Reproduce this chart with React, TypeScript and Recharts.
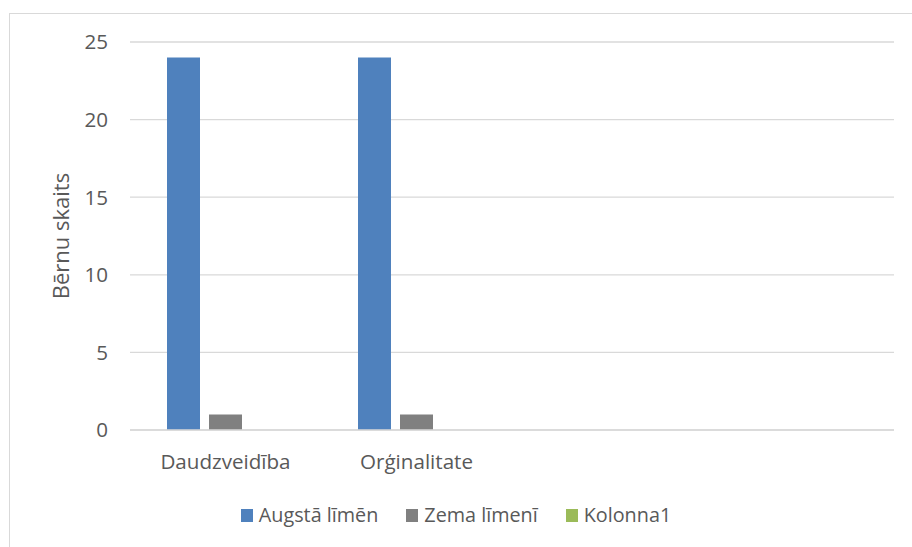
import React from 'react';
import { BarChart, Bar, XAxis, YAxis, CartesianGrid, Legend } from 'recharts';

const categories = ['Daudzveidība', 'Orģinalitate', '', ''];
const augstaLimen = [24, 24, null, null];
const zemaLimeni = [1, 1, null, null];
const kolonna1 = [null, null, null, null];
const yTicks = [0, 5, 10, 15, 20, 25];

const seriesNames = ['Augstā līmēn', 'Zema līmenī', 'Kolonna1'];
const seriesColors = ['#4f81bd', '#808080', '#9bbb59'];

const data = categories.map((c, i) => ({
  name: c,
  a: augstaLimen[i],
  z: zemaLimeni[i],
  k: kolonna1[i],
}));

const FONT = '"Open Sans", sans-serif';
const TEXT = '#595959';

const LegendContent = () => (
  <div style={{ display: 'flex', justifyContent: 'center', alignItems: 'center', fontFamily: FONT, fontSize: 19.8, color: TEXT }}>
    {seriesNames.map((n, i) => (
      <div key={n} style={{ display: 'flex', alignItems: 'center', marginLeft: i === 0 ? 0 : 28 }}>
        <span style={{ display: 'inline-block', width: 12, height: 13, background: seriesColors[i], marginRight: 6 }} />
        <span style={{ lineHeight: '26px' }}>{n}</span>
      </div>
    ))}
  </div>
);

export default function App() {
  return (
    <div style={{ position: 'absolute', left: 0, top: 0, width: 912, height: 547, background: '#fff' }}>
      <div style={{ position: 'absolute', left: 9, top: 13, width: 920, height: 560, border: '1px solid #d9d9d9', boxSizing: 'border-box' }} />
      <div style={{ position: 'absolute', left: 0, top: 0 }}>
        <BarChart
          width={912}
          height={547}
          data={data}
          margin={{ top: 42, right: 18, left: 0, bottom: 57 }}
          barSize={33}
          barGap={9}
        >
          <CartesianGrid vertical={false} stroke="#d9d9d9" strokeWidth={1.3} />
          <XAxis
            dataKey="name"
            height={60}
            tickLine={false}
            tickSize={0}
            tickMargin={24}
            axisLine={{ stroke: '#d9d9d9', strokeWidth: 1.3 }}
            tick={{ fill: TEXT, fontSize: 20.6, fontFamily: FONT }}
            interval={0}
          />
          <YAxis
            width={130}
            domain={[0, 25]}
            ticks={yTicks}
            axisLine={false}
            tickLine={false}
            tickSize={0}
            tickMargin={22}
            tick={{ fill: TEXT, fontSize: 20.6, fontFamily: FONT }}
            label={{
              content: (props: any) => {
                const vb = props.viewBox;
                const cx = vb.x + 60;
                const cy = vb.y + vb.height / 2;
                return (
                  <text
                    x={cx}
                    y={cy}
                    transform={`rotate(-90 ${cx} ${cy})`}
                    textAnchor="middle"
                    dominantBaseline="central"
                    fill={TEXT}
                    fontSize={22}
                    fontFamily={FONT}
                  >
                    Bērnu skaits
                  </text>
                );
              },
            }}
          />
          <Legend
            verticalAlign="middle"
            layout="horizontal"
            content={<LegendContent />}
            wrapperStyle={{ top: 502, left: 0, width: 912 }}
          />
          <Bar dataKey="a" name={seriesNames[0]} fill={seriesColors[0]} isAnimationActive={false} />
          <Bar dataKey="z" name={seriesNames[1]} fill={seriesColors[1]} isAnimationActive={false} />
          <Bar dataKey="k" name={seriesNames[2]} fill={seriesColors[2]} isAnimationActive={false} />
        </BarChart>
      </div>
    </div>
  );
}
